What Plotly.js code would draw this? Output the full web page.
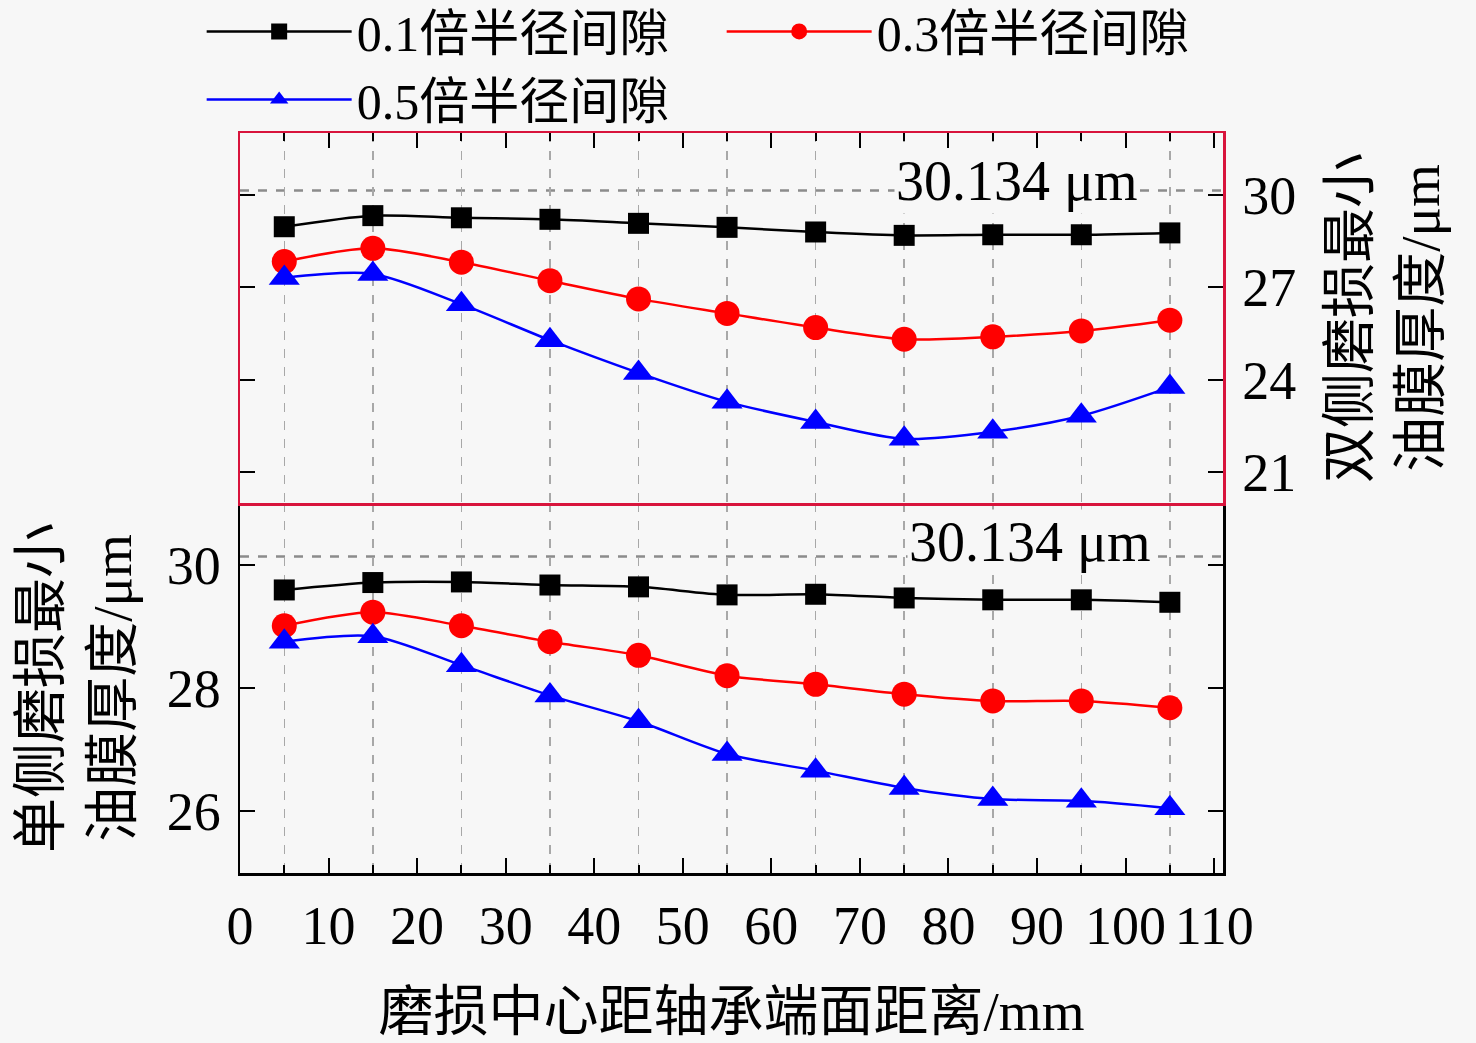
<!DOCTYPE html>
<html>
<head>
<meta charset="utf-8">
<script src="https://cdn.plot.ly/plotly-3.0.1.min.js"></script>
<style>
	html, body { margin: 0; padding: 0; background: #f7f7f7; }
	#plot { width: 1476px; height: 1043px; }
</style>
</head>
<body>
<div id="plot"></div>
<script>
// wear position from bearing end face (mm)
var wearPos = [5, 15, 25, 35, 45, 55, 65, 75, 85, 95, 105];

// series names
var names = ['0.1倍半径间隙', '0.3倍半径间隙', '0.5倍半径间隙'];

// single-sided wear, min film thickness (um) - lower panel
var single01 = [29.59, 29.71, 29.72, 29.67, 29.64, 29.51, 29.52, 29.46, 29.43, 29.43, 29.39];
var single03 = [29.01, 29.23, 29.01, 28.75, 28.53, 28.20, 28.06, 27.90, 27.79, 27.79, 27.68];
var single05 = [28.75, 28.84, 28.37, 27.88, 27.46, 26.93, 26.66, 26.38, 26.20, 26.17, 26.05];

// double-sided wear, min film thickness (um) - upper panel
var double01 = [28.96, 29.32, 29.25, 29.20, 29.07, 28.94, 28.79, 28.68, 28.70, 28.70, 28.76];
var double03 = [27.83, 28.26, 27.81, 27.21, 26.62, 26.15, 25.69, 25.31, 25.39, 25.58, 25.93];
var double05 = [27.30, 27.43, 26.45, 25.28, 24.22, 23.28, 22.63, 22.08, 22.31, 22.83, 23.76];

// film thickness without wear
var noWearFilm = 30.134;
var noWearLabel = '30.134 μm';

var fontFam = '"Liberation Serif", "Times New Roman", "Noto Sans CJK SC", serif';
var bg = '#f7f7f7';
var frameRed = '#d8143c';

var styles = [
	{ color: '#000000', symbol: 'square', size: 21 },
	{ color: '#ff0000', symbol: 'circle', size: 25 },
	{ color: '#0000ff', symbol: 'triangle-up', size: 27 }
];

function makeTrace(y, i, xa, ya, show) {
	return {
		x: wearPos,
		y: y,
		xaxis: xa,
		yaxis: ya,
		name: names[i],
		legendgroup: names[i],
		showlegend: show,
		mode: 'lines+markers',
		line: { color: styles[i].color, width: 2.5, shape: 'spline', smoothing: 0.8 },
		marker: { color: styles[i].color, symbol: styles[i].symbol, size: styles[i].size }
	};
}

var data = [
	makeTrace(double01, 0, 'x2', 'y2', true),
	makeTrace(double03, 1, 'x2', 'y2', true),
	makeTrace(double05, 2, 'x2', 'y2', true),
	makeTrace(single01, 0, 'x', 'y', false),
	makeTrace(single03, 1, 'x', 'y', false),
	makeTrace(single05, 2, 'x', 'y', false)
];

var xminor = {
	dtick: 5,
	ticks: 'inside',
	ticklen: 8,
	tickcolor: '#000',
	showgrid: true,
	gridcolor: '#a8a8a8',
	griddash: 'dash',
	gridwidth: 1.5
};

var layout = {
	width: 1476,
	height: 1043,
	paper_bgcolor: bg,
	plot_bgcolor: bg,
	hovermode: false,
	showlegend: true,
	margin: { l: 240, r: 253, t: 133, b: 170, autoexpand: false },
	font: { family: fontFam, size: 54, color: '#000' },
	legend: {
		orientation: 'h',
		x: -0.039,
		xanchor: 'left',
		y: 1.19,
		yanchor: 'top',
		bgcolor: 'rgba(0,0,0,0)',
		font: { family: fontFam, size: 50, color: '#000' },
		entrywidth: 360,
		entrywidthmode: 'pixels',
		itemwidth: 145,
		tracegroupgap: 0
	},
	xaxis: {
		anchor: 'y',
		domain: [0, 1],
		range: [0, 111],
		tick0: 0,
		dtick: 10,
		ticks: 'inside',
		ticklen: 15,
		tickwidth: 2,
		tickcolor: '#000',
		showline: true,
		linecolor: '#000',
		linewidth: 2.5,
		showgrid: false,
		zeroline: false,
		ticklabelstandoff: 4,
		tickfont: { size: 54 },
		minor: xminor,
		title: { text: '磨损中心距轴承端面距离/mm', font: { size: 55 }, standoff: 36 }
	},
	xaxis2: {
		anchor: 'y2',
		matches: 'x',
		side: 'top',
		range: [0, 111],
		tick0: 0,
		dtick: 10,
		ticks: 'inside',
		ticklen: 15,
		tickwidth: 2,
		tickcolor: '#000',
		showticklabels: false,
		showline: true,
		mirror: true,
		linecolor: frameRed,
		linewidth: 2.5,
		showgrid: false,
		zeroline: false,
		minor: xminor
	},
	yaxis: {
		anchor: 'x',
		domain: [0, 0.5],
		range: [25, 31],
		tickvals: [26, 28, 30],
		ticks: 'inside',
		ticklen: 15,
		tickwidth: 2,
		tickcolor: '#000',
		showline: true,
		mirror: 'ticks',
		linecolor: '#000',
		linewidth: 2.5,
		showgrid: false,
		zeroline: false,
		ticklabelstandoff: 6,
		tickfont: { size: 54 },
		title: { text: '单侧磨损最小<br>油膜厚度/μm', font: { size: 55 }, standoff: 18 }
	},
	yaxis2: {
		anchor: 'x2',
		domain: [0.5, 1],
		side: 'right',
		range: [20, 32],
		tick0: 0,
		dtick: 3,
		ticks: 'inside',
		ticklen: 15,
		tickwidth: 2,
		tickcolor: '#000',
		showline: true,
		mirror: 'ticks',
		linecolor: frameRed,
		linewidth: 2.5,
		showgrid: false,
		zeroline: false,
		ticklabelstandoff: 6,
		tickfont: { size: 54 },
		title: { text: '双侧磨损最小<br>油膜厚度/μm', font: { size: 55 }, standoff: 34 }
	},
	shapes: [
		{ type: 'line', xref: 'x domain', yref: 'y', x0: 0, x1: 1, y0: noWearFilm, y1: noWearFilm,
		  line: { color: '#8c8c8c', width: 2.5, dash: 'dash' }, layer: 'below' },
		{ type: 'line', xref: 'x2 domain', yref: 'y2', x0: 0, x1: 1, y0: noWearFilm, y1: noWearFilm,
		  line: { color: '#8c8c8c', width: 2.5, dash: 'dash' }, layer: 'below' }
	],
	annotations: [
		{ xref: 'x2', yref: 'y2', x: 87.7, y: noWearFilm, yshift: 10, text: noWearLabel, showarrow: false,
		  bgcolor: bg, font: { size: 56 } },
		{ xref: 'x', yref: 'y', x: 89.2, y: noWearFilm, yshift: 14, text: noWearLabel, showarrow: false,
		  bgcolor: bg, font: { size: 56 } }
	]
};

Plotly.newPlot('plot', data, layout, { staticPlot: true });
</script>
</body>
</html>
